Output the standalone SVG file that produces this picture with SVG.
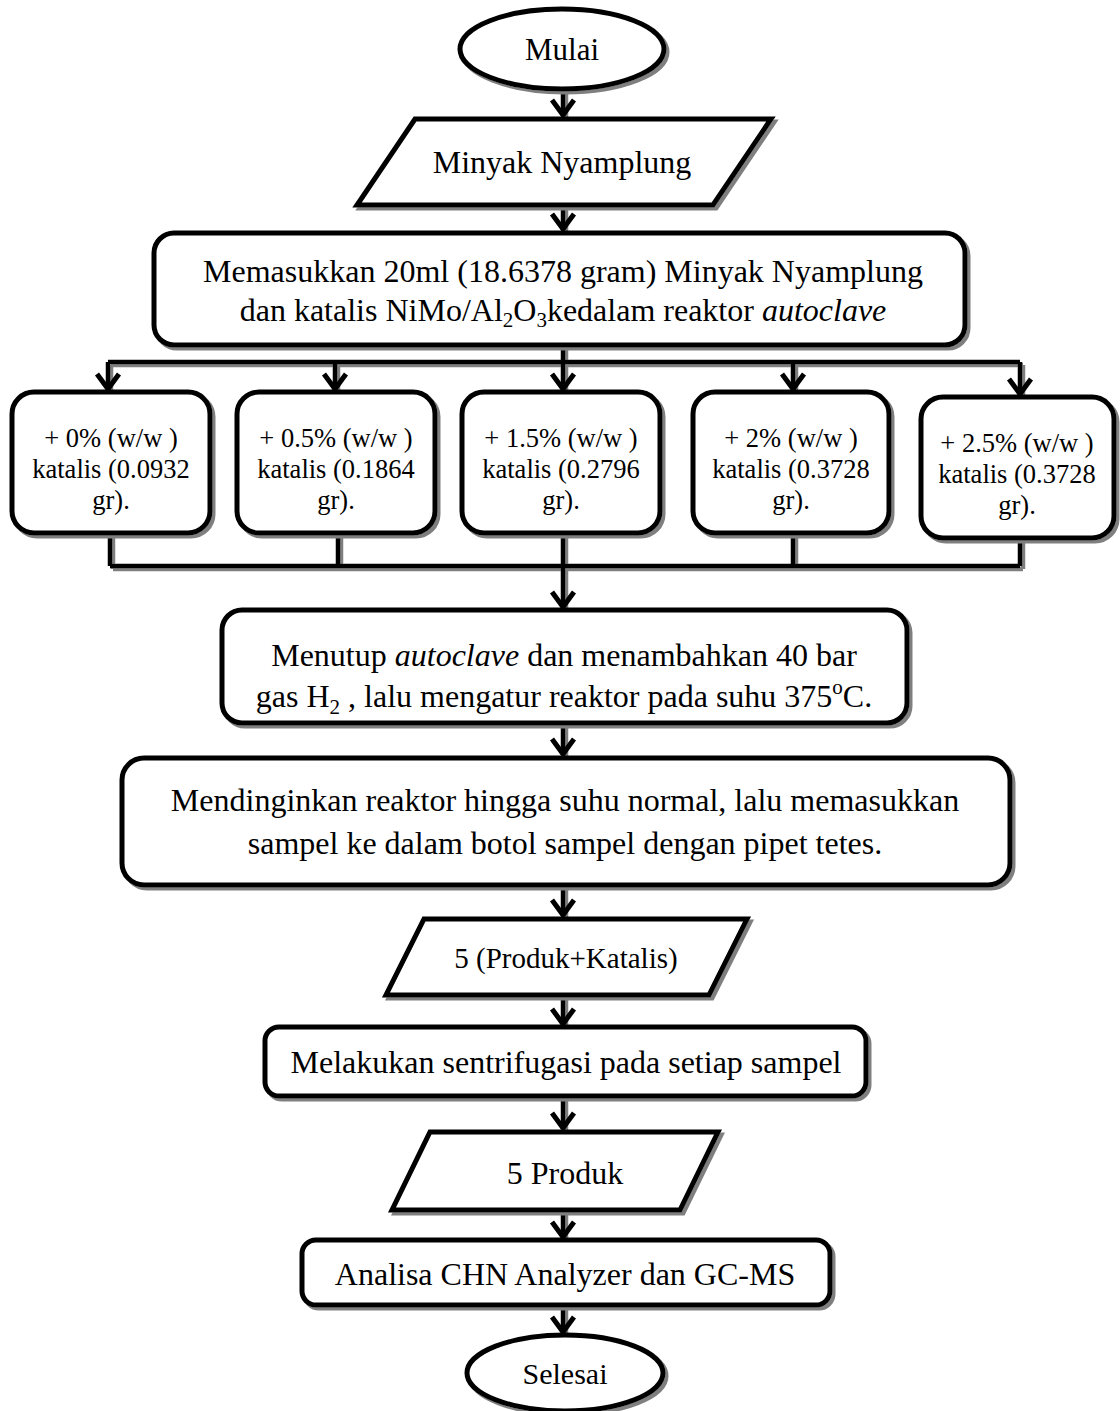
<svg xmlns="http://www.w3.org/2000/svg" width="1120" height="1411" viewBox="0 0 1120 1411">
<defs>
<filter id="sh" filterUnits="userSpaceOnUse" x="0" y="0" width="1120" height="1411">
<feDropShadow dx="3" dy="3" stdDeviation="0.6" flood-color="#7f7f7f" flood-opacity="1"/>
</filter>
<style>
.s{fill:#fff;stroke:#000;stroke-width:5;filter:url(#sh)}
.c{fill:none;stroke:#000;stroke-width:4.5;filter:url(#sh)}
.a{fill:none;stroke:#000;stroke-width:5}
.t{font-family:"Liberation Serif","Times New Roman",serif;fill:#000;text-anchor:middle}
.big{font-size:32px}
.sm{font-size:26.5px}
</style>
</defs>
<g id="connectors">
<path class="c" d="M563,90 V116"/>
<path class="c" d="M563,205 V230"/>
<path class="c" d="M563,345 V362 M108,362 H1020 M108,362 V390 M335,362 V390 M563,362 V390 M793,362 V390 M1020,362 V395"/>
<path class="c" d="M110,533 V566 M338,533 V566 M563,533 V566 M793,533 V566 M1020,538 V566 M110,566 H1020 M563,566 V608"/>
<path class="c" d="M563,723 V755"/>
<path class="c" d="M563,885 V916"/>
<path class="c" d="M563,995 V1025"/>
<path class="c" d="M563,1096 V1129"/>
<path class="c" d="M563,1210 V1238"/>
<path class="c" d="M563,1305 V1333"/>
<g class="a">
<path d="M552,100 L563,115 L574,100"/>
<path d="M552,214 L563,229 L574,214"/>
<path d="M97,374 L108,389 L119,374"/>
<path d="M324,374 L335,389 L346,374"/>
<path d="M552,374 L563,389 L574,374"/>
<path d="M782,374 L793,389 L804,374"/>
<path d="M1009,379 L1020,394 L1031,379"/>
<path d="M552,592 L563,607 L574,592"/>
<path d="M552,739 L563,754 L574,739"/>
<path d="M552,900 L563,915 L574,900"/>
<path d="M552,1009 L563,1024 L574,1009"/>
<path d="M552,1113 L563,1128 L574,1113"/>
<path d="M552,1222 L563,1237 L574,1222"/>
<path d="M552,1317 L563,1332 L574,1317"/>
</g>
</g>
<g id="mulai">
<ellipse class="s" cx="562" cy="49" rx="102" ry="40"/>
<text class="t" style="font-size:31px" x="562" y="60">Mulai</text>
</g>
<g id="minyak">
<polygon class="s" points="415,119 771,119 713,205 357,205"/>
<text class="t big" x="562" y="173">Minyak Nyamplung</text>
</g>
<g id="memasukkan">
<rect class="s" x="154" y="233" width="811" height="112" rx="20"/>
<text class="t big" x="563" y="282">Memasukkan 20ml (18.6378 gram) Minyak Nyamplung</text>
<text class="t big" x="563" y="321">dan katalis NiMo/Al<tspan font-size="21" dy="6">2</tspan><tspan dy="-6">O</tspan><tspan font-size="21" dy="6">3</tspan><tspan dy="-6">kedalam reaktor </tspan><tspan font-style="italic">autoclave</tspan></text>
</g>
<g id="k0">
<rect class="s" x="12" y="392" width="198" height="141" rx="22"/>
<text class="t sm" x="111" y="447">+ 0% (w/w )</text>
<text class="t sm" x="111" y="478">katalis (0.0932</text>
<text class="t sm" x="111" y="509">gr).</text>
</g>
<g id="k05">
<rect class="s" x="237" y="392" width="198" height="141" rx="22"/>
<text class="t sm" x="336" y="447">+ 0.5% (w/w )</text>
<text class="t sm" x="336" y="478">katalis (0.1864</text>
<text class="t sm" x="336" y="509">gr).</text>
</g>
<g id="k15">
<rect class="s" x="462" y="392" width="198" height="141" rx="22"/>
<text class="t sm" x="561" y="447">+ 1.5% (w/w )</text>
<text class="t sm" x="561" y="478">katalis (0.2796</text>
<text class="t sm" x="561" y="509">gr).</text>
</g>
<g id="k2">
<rect class="s" x="693" y="392" width="196" height="141" rx="22"/>
<text class="t sm" x="791" y="447">+ 2% (w/w )</text>
<text class="t sm" x="791" y="478">katalis (0.3728</text>
<text class="t sm" x="791" y="509">gr).</text>
</g>
<g id="k25">
<rect class="s" x="921" y="397" width="193" height="141" rx="22"/>
<text class="t sm" x="1017" y="452">+ 2.5% (w/w )</text>
<text class="t sm" x="1017" y="483">katalis (0.3728</text>
<text class="t sm" x="1017" y="514">gr).</text>
</g>
<g id="menutup">
<rect class="s" x="222" y="610" width="685" height="113" rx="20"/>
<text class="t big" x="564" y="666">Menutup <tspan font-style="italic">autoclave</tspan> dan menambahkan 40 bar</text>
<text class="t big" x="564" y="707">gas H<tspan font-size="21" dy="7">2</tspan><tspan dy="-7"> , lalu mengatur reaktor pada suhu 375</tspan><tspan font-size="21" dy="-13">o</tspan><tspan dy="13">C.</tspan></text>
</g>
<g id="mendinginkan">
<rect class="s" x="122" y="758" width="888" height="127" rx="22"/>
<text class="t big" x="565" y="811">Mendinginkan reaktor hingga suhu normal, lalu memasukkan</text>
<text class="t big" x="565" y="854">sampel ke dalam botol sampel dengan pipet tetes.</text>
</g>
<g id="produkkatalis">
<polygon class="s" points="424,919 747,919 709,995 386,995"/>
<text class="t" style="font-size:29px" x="566" y="968">5 (Produk+Katalis)</text>
</g>
<g id="sentrifugasi">
<rect class="s" x="265" y="1027" width="601" height="69" rx="14"/>
<text class="t big" x="566" y="1073">Melakukan sentrifugasi pada setiap sampel</text>
</g>
<g id="produk">
<polygon class="s" points="430,1132 718,1132 680,1210 392,1210"/>
<text class="t big" x="565" y="1184">5 Produk</text>
</g>
<g id="analisa">
<rect class="s" x="302" y="1240" width="528" height="65" rx="14"/>
<text class="t big" x="565" y="1285">Analisa CHN Analyzer dan GC-MS</text>
</g>
<g id="selesai">
<ellipse class="s" cx="565" cy="1373" rx="98" ry="38"/>
<text class="t" style="font-size:30px" x="565" y="1384">Selesai</text>
</g>
</svg>
